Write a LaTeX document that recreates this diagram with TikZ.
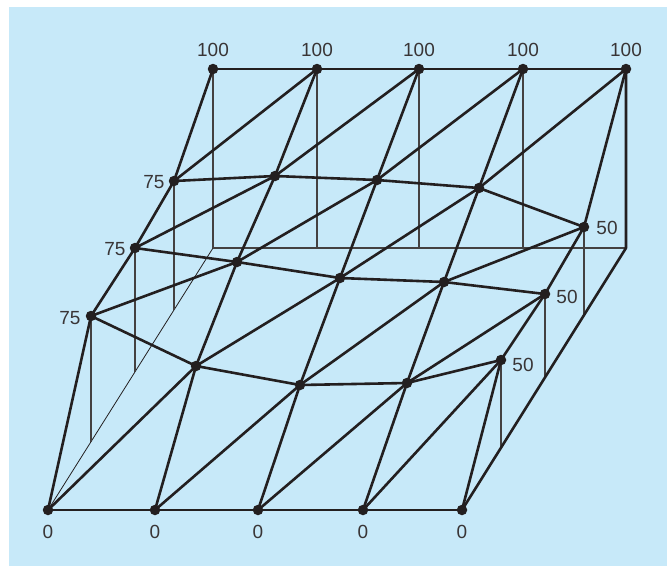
\documentclass[tikz,border=0pt]{standalone}
\usepackage{fontspec}
\setmainfont{Liberation Sans}
\definecolor{bg}{RGB}{199,233,249}
\definecolor{ink}{RGB}{35,31,32}
\begin{document}
\begin{tikzpicture}[x=1pt,y=-1pt,
  thickline/.style={draw=ink,line width=2.6pt,line cap=round,line join=round},
  thinline/.style={draw=ink!85,line width=1.2pt},
  hairline/.style={draw=ink,line width=0.8pt},
  dot/.style={circle,fill=ink,inner sep=0pt,minimum size=10.5pt},
  lbl/.style={text=ink!90,inner sep=0pt,font=\fontsize{19}{21}\selectfont}]
\useasboundingbox (0,0) rectangle (667,566);
\fill[white] (0,0) rectangle (667,566);
\fill[bg] (9,7) rectangle (667,566);
% grid points
\coordinate (p00) at (213,69);  \coordinate (p10) at (317,69);  \coordinate (p20) at (419,69);  \coordinate (p30) at (523,69);  \coordinate (p40) at (626,69);
\coordinate (p01) at (174,181); \coordinate (p11) at (275,176); \coordinate (p21) at (377,180); \coordinate (p31) at (479,188); \coordinate (p41) at (584,227);
\coordinate (p02) at (135,248); \coordinate (p12) at (237,262); \coordinate (p22) at (340,278); \coordinate (p32) at (444,282); \coordinate (p42) at (545,294);
\coordinate (p03) at (91,316);  \coordinate (p13) at (196,366); \coordinate (p23) at (300,385); \coordinate (p33) at (407,383); \coordinate (p43) at (501,360);
\coordinate (p04) at (48,510);  \coordinate (p14) at (155,510); \coordinate (p24) at (258,510); \coordinate (p34) at (363,510); \coordinate (p44) at (462,510);
% base plane
\coordinate (bl) at (213,248);
\coordinate (br) at (626,248);
\coordinate (f01) at (174,310); \coordinate (f02) at (135,372); \coordinate (f03) at (91,442);
\coordinate (f41) at (584,315); \coordinate (f42) at (545,377); \coordinate (f43) at (501,448);
\coordinate (f10) at (317,248); \coordinate (f20) at (419,248); \coordinate (f30) at (523,248);
% thin base and drop lines
\draw[hairline] (p04) -- (bl);
\draw[thinline] (bl) -- (br);
\foreach \a/\b in {p00/bl,p10/f10,p20/f20,p30/f30,p01/f01,p02/f02,p03/f03,p41/f41,p42/f42,p43/f43}
  \draw[thinline] (\a) -- (\b);
% box edges
\draw[thickline] (p40) -- (br) -- (p44);
% surface mesh
\foreach \j in {0,...,4}{
  \draw[thickline] (p0\j) -- (p1\j) -- (p2\j) -- (p3\j) -- (p4\j);
  \draw[thickline] (p\j0) -- (p\j1) -- (p\j2) -- (p\j3) -- (p\j4);
}
\foreach \i/\ii in {0/1,1/2,2/3,3/4}{
  \foreach \j/\jj in {0/1,1/2,2/3,3/4}{
    \draw[thickline] (p\i\jj) -- (p\ii\j);
  }
}
% dots
\foreach \i in {0,...,4}{
  \foreach \j in {0,...,4}{
    \node[dot] (d\i\j) at (p\i\j) {};
  }
}
% labels
\node[lbl] (t0) at (213,50) {100};
\node[lbl] (t1) at (317,50) {100};
\node[lbl] (t2) at (419,50) {100};
\node[lbl] (t3) at (523,50) {100};
\node[lbl] (t4) at (626,50) {100};
\node[lbl] (l1) at (154,182) {75};
\node[lbl] (l2) at (115,249) {75};
\node[lbl] (l3) at (70,318) {75};
\node[lbl] (r1) at (607,228) {50};
\node[lbl] (r2) at (567,297) {50};
\node[lbl] (r3) at (523,365) {50};
\node[lbl] (b0) at (48,532) {0};
\node[lbl] (b1) at (155,532) {0};
\node[lbl] (b2) at (258,532) {0};
\node[lbl] (b3) at (363,532) {0};
\node[lbl] (b4) at (462,532) {0};
\end{tikzpicture}
\end{document}
